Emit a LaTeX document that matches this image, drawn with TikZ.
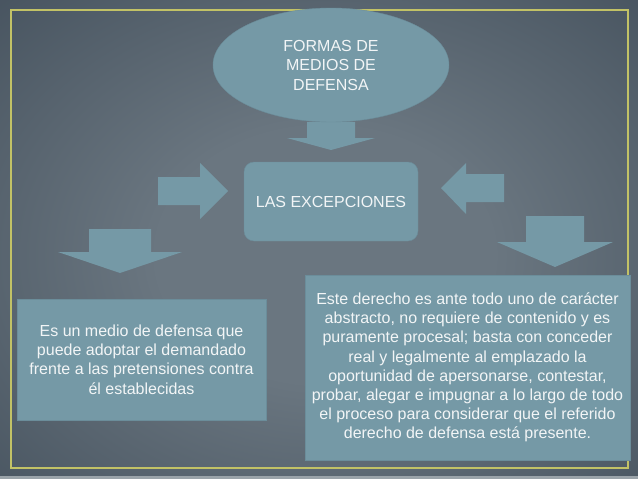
\documentclass[tikz,border=0pt]{standalone}
\usepackage{fontspec}
\setmainfont{Liberation Sans}
\usepackage{tikz}
\usetikzlibrary{positioning, shapes.geometric}

\definecolor{bgmid}{HTML}{6A7680}
\definecolor{bgedge}{HTML}{1B2836}
\definecolor{shapefill}{HTML}{7599A6}
\definecolor{shapeedge}{HTML}{6B8D9A}
\definecolor{frameyellow}{HTML}{C2C266}
\definecolor{stripgray}{HTML}{9AA3A9}
\definecolor{textwhite}{HTML}{F2F5F6}
\pgfdeclareradialshading{bgglow}{\pgfpoint{0bp}{0bp}}{color(0bp)=(bgmid); color(10bp)=(bgmid); color(52bp)=(bgedge)}

\begin{document}
\begin{tikzpicture}[
        x=1pt, y=-1pt,
        bubble/.style={ellipse, fill=shapefill, draw=shapeedge, inner sep=0pt, minimum width=236pt, minimum height=114pt, align=center, text=textwhite, font=\fontsize{16}{19.5}\selectfont},
        roundbox/.style={rectangle, rounded corners=10pt, fill=shapefill, draw=shapeedge, inner sep=0pt, minimum width=174pt, minimum height=79pt, text=textwhite, font=\fontsize{16}{19.2}\selectfont},
        textbox/.style={rectangle, fill=shapefill, draw=shapeedge, inner sep=0pt, align=center, text=textwhite, font=\fontsize{16}{19.2}\selectfont},
        blockarrow/.style={fill=shapefill}
    ]
    \useasboundingbox (0,0) rectangle (638,479);

    % background glow
    \begin{scope}
        \clip (0,0) rectangle (638,479);
        \shade[shading=bgglow] (-94,-64) rectangle (744,574);
    \end{scope}
    \fill[stripgray] (0,476) rectangle (638,479);
    \draw[frameyellow, line width=2pt] (11,10) rectangle (628,468);

    % down arrows: centre/top/head base/tip/half shaft/half head
    \foreach \cx/\top/\base/\tip/\sw/\hw in {331/122/138/150/24/44, 120/229/252/273/31/62, 555/216/242/267/29/58} {
        \fill[blockarrow] (\cx-\sw,\top) -- (\cx+\sw,\top) -- (\cx+\sw,\base) -- (\cx+\hw,\base)
            -- (\cx,\tip) -- (\cx-\hw,\base) -- (\cx-\sw,\base) -- cycle;
    }

    % side arrows
    \fill[blockarrow] (158,177) -- (200,177) -- (200,163) -- (228,191) -- (200,219) -- (200,205) -- (158,205) -- cycle;
    \fill[blockarrow] (504,174) -- (466,174) -- (466,163) -- (441,188) -- (466,214) -- (466,202) -- (504,202) -- cycle;

    \node[bubble] (formas) at (331,65) {FORMAS DE\\MEDIOS DE\\DEFENSA};
    \node[roundbox] (excepciones) at (331,201.5) {LAS EXCEPCIONES};

    \node[textbox, minimum width=249pt, minimum height=121pt] (medio) at (141.5,359.5)
        {Es un medio de defensa que\\puede adoptar el demandado\\frente a las pretensiones contra\\él establecidas};
    \node[textbox, minimum width=325pt, minimum height=185pt] (derecho) at (467.5,367.5)
        {Este derecho es ante todo uno de carácter\\abstracto, no requiere de contenido y es\\puramente procesal; basta con conceder\\real y legalmente al emplazado la\\oportunidad de apersonarse, contestar,\\probar, alegar e impugnar a lo largo de todo\\el proceso para considerar que el referido\\derecho de defensa está presente.};
\end{tikzpicture}
\end{document}
